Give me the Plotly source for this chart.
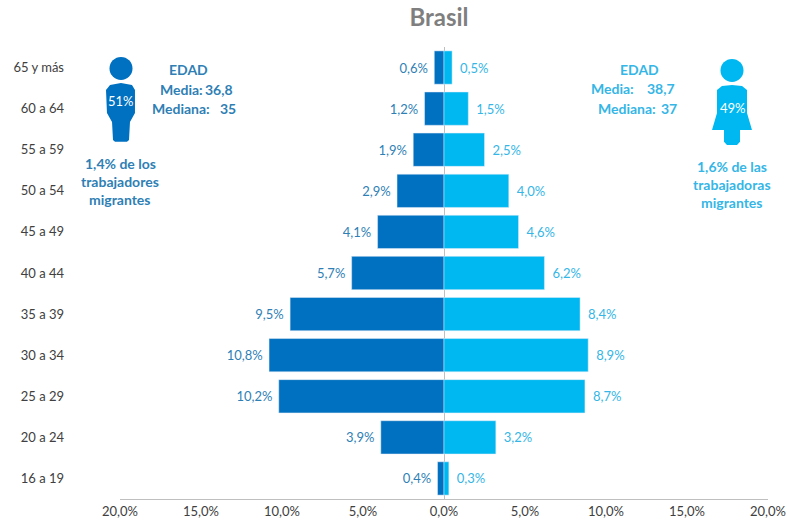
import plotly.graph_objects as go

categories = ["16 a 19", "20 a 24", "25 a 29", "30 a 34", "35 a 39", "40 a 44",
              "45 a 49", "50 a 54", "55 a 59", "60 a 64", "65 y más"]
hombres = [0.4, 3.9, 10.2, 10.8, 9.5, 5.7, 4.1, 2.9, 1.9, 1.2, 0.6]
mujeres = [0.3, 3.2, 8.7, 8.9, 8.4, 6.2, 4.6, 4.0, 2.5, 1.5, 0.5]
tick_vals = [-20, -15, -10, -5, 0, 5, 10, 15, 20]
tick_text = ["20,0%", "15,0%", "10,0%", "5,0%", "0,0%", "5,0%", "10,0%", "15,0%", "20,0%"]

W, H = 787, 530
PL, PR, PT, PB = 120, 768, 47, 499.5   # plot area in window pixels
DARK, LIGHT = "#0070C0", "#00B8F1"
DARK_T, LIGHT_T = "#2F7FB5", "#35B6E6"
FONT = "Lato"
PAD_L = "\u00a0"
PAD_R = "\u00a0\u2009"

def fmt(v):
    return f"{v:.1f}".replace(".", ",") + "%"

def px(x):
    return (x - PL) / (PR - PL)

def py(y):
    return (PB - y) / (PB - PT)

def path(points):
    return "M " + " L ".join(f"{px(x):.4f},{py(y):.4f}" for x, y in points) + " Z"

fig = go.Figure()
fig.add_bar(y=categories, x=[-v for v in hombres], orientation="h", marker_color=DARK,
            text=[fmt(v) + PAD_L for v in hombres], textposition="outside",
            textfont=dict(color=DARK_T, size=13, family=FONT), cliponaxis=False, name="Hombres")
fig.add_bar(y=categories, x=mujeres, orientation="h", marker_color=LIGHT,
            text=[PAD_R + fmt(v) for v in mujeres], textposition="outside",
            textfont=dict(color=LIGHT_T, size=13, family=FONT), cliponaxis=False, name="Mujeres")

shapes = [
    # man
    dict(type="circle", xref="paper", yref="paper", x0=px(109.5), x1=px(132.5), y0=py(80), y1=py(57),
         fillcolor=DARK, line_width=0),
    dict(type="path", xref="paper", yref="paper", fillcolor=DARK, line_width=0,
         path=path([(106, 90), (110, 85), (121, 83), (132, 85), (135, 90), (135, 113), (130, 122),
                    (129, 140), (127, 142), (115, 142), (113, 140), (112, 122), (107, 113)])),
    # woman
    dict(type="circle", xref="paper", yref="paper", x0=px(720.5), x1=px(743.5), y0=py(82), y1=py(59),
         fillcolor=LIGHT, line_width=0),
    dict(type="path", xref="paper", yref="paper", fillcolor=LIGHT, line_width=0,
         path=path([(717, 90), (722, 86), (732, 85), (742, 86), (747, 90), (747, 113), (752, 130),
                    (740, 130), (740, 142), (737, 145), (727, 145), (724, 142), (724, 130),
                    (712, 130), (717, 113)])),
]

def note(x, y, text, color, size=14, bold=True, anchor="center"):
    return dict(xref="paper", yref="paper", x=px(x), y=py(y), text=f"<b>{text}</b>" if bold else text,
                showarrow=False, xanchor=anchor, yanchor="middle",
                font=dict(color=color, size=size, family=FONT))

annotations = [
    note(121, 101, "51%", "white", 13, False),
    note(733, 108, "49%", "white", 13, False),
    note(188, 70, "EDAD", DARK_T),
    note(158, 90, "Media:", DARK_T, anchor="left"),
    note(203, 90, "36,8", DARK_T, anchor="left"),
    note(150, 109, "Mediana:", DARK_T, anchor="left"),
    note(228, 109, "35", DARK_T),
    note(120, 164, "1,4% de los", DARK_T),
    note(120, 182, "trabajadores", DARK_T),
    note(120, 200, "migrantes", DARK_T),
    note(639, 70, "EDAD", LIGHT_T),
    note(589, 89, "Media:", LIGHT_T, anchor="left"),
    note(645, 89, "38,7", LIGHT_T, anchor="left"),
    note(596, 109, "Mediana:", LIGHT_T, anchor="left"),
    note(669, 109, "37", LIGHT_T),
    note(732, 167, "1,6% de las", LIGHT_T),
    note(732, 185, "trabajadoras", LIGHT_T),
    note(732, 203, "migrantes", LIGHT_T),
]

fig.update_layout(
    width=W, height=H, barmode="overlay", bargap=0.19, showlegend=False,
    paper_bgcolor="white", plot_bgcolor="white",
    margin=dict(l=PL, r=W - PR, t=PT, b=H - PB),
    title=dict(text="<b>Brasil</b>", x=439 / W, xanchor="center", y=1 - 18 / H, yanchor="middle",
               font=dict(size=24, color="#7F7F7F", family=FONT)),
    shapes=shapes, annotations=annotations,
    xaxis=dict(range=[-20, 20], tickvals=tick_vals, ticktext=tick_text, showgrid=False, automargin=False,
               zeroline=True, zerolinecolor="#BFBFBF", zerolinewidth=1, ticks="",
               showline=True, linecolor="#BFBFBF", linewidth=1,
               tickfont=dict(size=13, color="#404040", family=FONT)),
    yaxis=dict(categoryorder="array", categoryarray=categories, showgrid=False, ticks="", automargin=False,
               showline=False, zeroline=False, ticklabelstandoff=55,
               tickfont=dict(size=13, color="#404040", family=FONT)),
)
fig.write_html("out.html", config=dict(displayModeBar=False),
               post_script="document.body.style.margin='0';document.documentElement.style.overflow='hidden';")
